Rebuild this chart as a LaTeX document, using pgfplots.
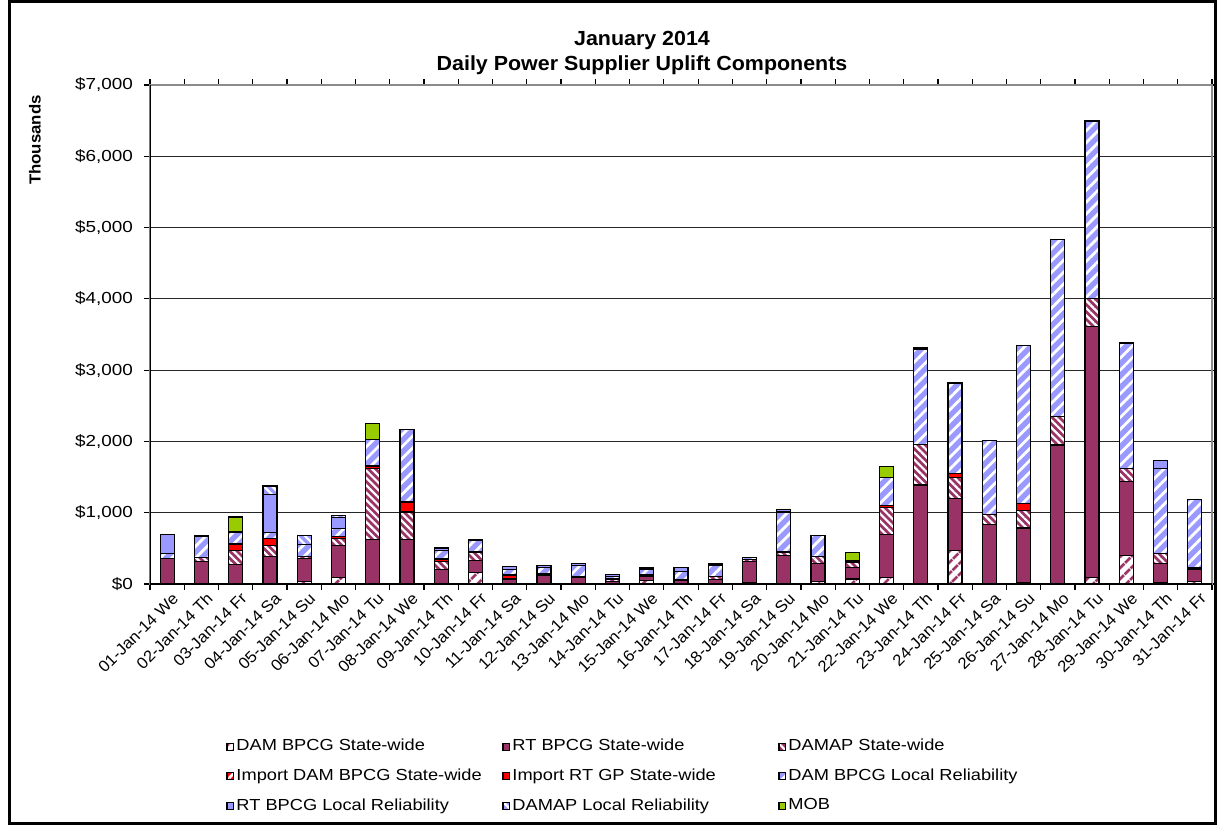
\documentclass[border=0pt]{standalone}
\usepackage{pgfplots}
\pgfplotsset{compat=1.18}
\usepackage{pgfplotstable}
\usetikzlibrary{patterns,patterns.meta}
\usepackage{fontspec}
\setmainfont{Liberation Sans}
\newfontfamily\wide{Liberation Sans}[FakeStretch=1.14]
\newfontfamily\widey{Liberation Sans}[FakeStretch=1.18]
\newfontfamily\wideb{Liberation Sans}[FakeStretch=1.05]
\definecolor{maroon}{HTML}{993366}
\definecolor{lblue}{HTML}{9999FF}
\definecolor{mobgreen}{HTML}{99CC00}

\pgfplotstableread{
x a b c d e f g h m
0 0 355 0 0 0 75 270 0 0
1 0 320 50 0 0 300 10 0 0
2 0 275 190 0 95 170 0 0 210
3 0 390 145 0 100 85 535 120 0
4 30 325 30 0 0 170 0 120 0
5 95 450 95 0 30 110 155 25 0
6 0 630 990 0 35 370 0 0 230
7 0 630 380 0 140 1015 0 0 0
8 0 205 110 0 35 115 40 0 0
9 165 170 115 0 0 160 10 0 0
10 0 70 0 0 55 80 45 0 0
11 0 125 20 0 0 90 30 0 0
12 0 90 20 0 0 150 30 0 0
13 0 40 20 0 15 30 30 0 0
14 45 60 20 0 0 85 25 0 0
15 10 40 10 0 0 110 60 0 0
16 0 60 40 0 0 155 25 0 0
17 20 300 25 0 0 30 0 0 0
18 0 405 45 0 0 560 30 0 0
19 30 260 95 0 0 290 10 0 0
20 70 165 75 0 0 20 0 0 110
21 95 600 380 0 25 390 0 0 155
22 0 1390 570 0 0 1330 20 0 0
23 465 735 295 0 55 1270 0 0 0
24 0 830 140 0 0 1040 0 0 0
25 25 760 245 0 95 2225 0 0 0
26 0 1950 395 0 0 2490 0 0 0
27 90 3520 390 0 0 2485 20 0 0
28 395 1045 175 0 0 1765 0 0 0
29 20 265 140 0 0 1190 115 0 0
30 30 175 20 0 0 955 0 0 0
}\data

\begin{document}
\begin{tikzpicture}
\path[use as bounding box] (0pt,0pt) rectangle (608.5pt,-412.5pt);
\draw[black, line width=1.5pt] (4.5pt,-0.75pt) rectangle (607.75pt,-411.75pt);
\node[font=\wideb\fontsize{10.2}{12.2}\selectfont\bfseries, align=center] at (321pt,-26.5pt) {January 2014\\Daily Power Supplier Uplift Components};
\node[font=\wideb\fontsize{8}{9}\selectfont\bfseries, rotate=90] at (17.5pt,-70pt) {Thousands};
\begin{axis}[
  at={(75pt,-292pt)}, anchor=south west,
  scale only axis, width=531pt, height=249.5pt,
  ybar stacked, bar width=7pt,
  xmin=-0.5, xmax=30.5, ymin=0, ymax=7000,
  xtick={0,...,30},
  xticklabels={01-Jan-14 We,02-Jan-14 Th,03-Jan-14 Fr,04-Jan-14 Sa,05-Jan-14 Su,06-Jan-14 Mo,07-Jan-14 Tu,08-Jan-14 We,09-Jan-14 Th,10-Jan-14 Fr,11-Jan-14 Sa,12-Jan-14 Su,13-Jan-14 Mo,14-Jan-14 Tu,15-Jan-14 We,16-Jan-14 Th,17-Jan-14 Fr,18-Jan-14 Sa,19-Jan-14 Su,20-Jan-14 Mo,21-Jan-14 Tu,22-Jan-14 We,23-Jan-14 Th,24-Jan-14 Fr,25-Jan-14 Sa,26-Jan-14 Su,27-Jan-14 Mo,28-Jan-14 Tu,29-Jan-14 We,30-Jan-14 Th,31-Jan-14 Fr},
  x tick label style={rotate=45, anchor=north east, font=\wideb\fontsize{8}{9}\selectfont, inner sep=1pt, yshift=-3pt},
  ytick={0,1000,...,7000},
  yticklabels={{\$0},{\$1,000},{\$2,000},{\$3,000},{\$4,000},{\$5,000},{\$6,000},{\$7,000}},
  y tick label style={font=\widey\fontsize{8}{9}\selectfont, xshift=-5pt},
  major tick length=0pt,
  minor xtick={-0.5,0.5,...,30.5},
  minor ytick={0,1000,...,7000},
  minor tick length=3pt,
  tick align=outside,
  minor tick style={black, line width=0.6pt},
  ymajorgrids, major grid style={black!85, line width=0.6pt},
  axis line style={draw=black!45, line width=0.6pt},
  legend columns=3,
  legend cell align=left,
  legend image code/.code={\draw[#1] (0pt,-1.7pt) rectangle (3.4pt,1.7pt);},
  legend style={at={(0.066,-0.2986)}, anchor=north west, draw=none, fill=none,
    font=\wide\fontsize{8}{9}\selectfont, row sep=5.5pt,
    nodes={inner sep=1pt}},
  every axis plot/.append style={draw=black, line width=0.6pt},
]
\addplot[fill=white, postaction={pattern={Lines[angle=45,distance=4pt,line width=1.5pt]}, pattern color=maroon}] table[x=x,y=a]{\data};
\addlegendentry{\makebox[132pt][l]{DAM BPCG State-wide}}
\addplot[fill=maroon] table[x=x,y=b]{\data};
\addlegendentry{\makebox[132pt][l]{RT BPCG  State-wide}}
\addplot[fill=maroon, postaction={pattern={Lines[angle=-45,distance=2.6pt,line width=1.1pt]}, pattern color=white}] table[x=x,y=c]{\data};
\addlegendentry{\makebox[132pt][l]{DAMAP State-wide}}
\addplot[fill=red, postaction={pattern={Lines[angle=45,distance=4pt,line width=1.5pt]}, pattern color=white}] table[x=x,y=d]{\data};
\addlegendentry{\makebox[132pt][l]{Import DAM BPCG State-wide}}
\addplot[fill=red] table[x=x,y=e]{\data};
\addlegendentry{\makebox[132pt][l]{Import RT GP State-wide}}
\addplot[fill=lblue, postaction={pattern={Lines[angle=45,distance=4.2pt,line width=1.4pt]}, pattern color=white}] table[x=x,y=f]{\data};
\addlegendentry{\makebox[132pt][l]{DAM BPCG Local Reliability}}
\addplot[fill=lblue] table[x=x,y=g]{\data};
\addlegendentry{\makebox[132pt][l]{RT BPCG  Local Reliability}}
\addplot[fill=lblue, postaction={pattern={Lines[angle=-45,distance=3pt,line width=1.2pt]}, pattern color=white}] table[x=x,y=h]{\data};
\addlegendentry{\makebox[132pt][l]{DAMAP Local Reliability}}
\addplot[fill=mobgreen] table[x=x,y=m]{\data};
\addlegendentry{\makebox[132pt][l]{MOB}}
\draw[black, line width=1.1pt] (rel axis cs:0,1) -- (rel axis cs:0,0) -- (rel axis cs:1,0);
\end{axis}
\end{tikzpicture}
\end{document}
